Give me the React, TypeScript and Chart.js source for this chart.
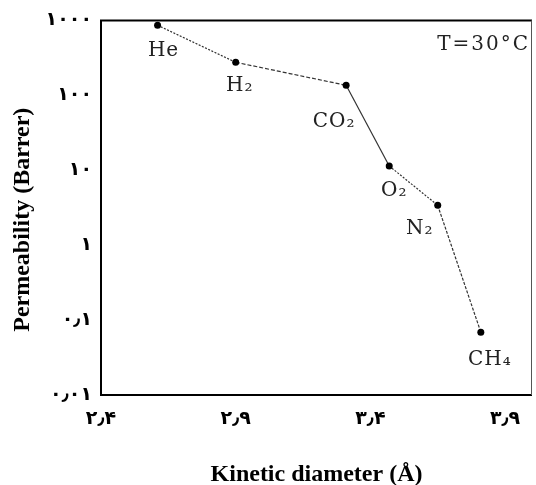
import React, { useEffect, useRef } from "react";
import { Chart, registerables } from "chart.js";

Chart.register(...registerables);

// ---- data ----
const gases = ["He", "H₂", "CO₂", "O₂", "N₂", "CH₄"];
const kineticDiameter = [2.61, 2.9, 3.31, 3.47, 3.65, 3.81];
const permeability = [860, 276, 136, 11.4, 3.4, 0.069];
const xTickValues = [2.4, 2.9, 3.4, 3.9];
const xTickLabels = ["۲٫۴", "۲٫۹", "۳٫۴", "۳٫۹"];
const yTickValues = [0.01, 0.1, 1, 10, 100, 1000];
const yTickLabels = ["۰٫۰۱", "۰٫۱", "۱", "۱۰", "۱۰۰", "۱۰۰۰"];
const annotationText = "T=30°C";
const xTitle = "Kinetic diameter (Å)";
const yTitle = "Permeability (Barrer)";

// ---- styles ----
const segmentDashes = [[2, 1.5], [4, 2], [], [2, 1.5], [3, 1.5]];
const labelOffsets = [
  [6, 25],
  [4, 24],
  [-12, 36],
  [5, 25],
  [-18, 23],
  [9, 28],
];

const framePlugin = {
  id: "frame",
  afterDraw(chart: any) {
    const { ctx, chartArea } = chart;
    const { left, right, top, bottom } = chartArea;
    ctx.save();
    ctx.strokeStyle = "#000";
    ctx.lineWidth = 2;
    ctx.beginPath();
    ctx.moveTo(right, top);
    ctx.lineTo(left, top);
    ctx.lineTo(left, bottom);
    ctx.lineTo(right, bottom);
    ctx.stroke();
    ctx.lineWidth = 1;
    ctx.strokeStyle = "#555";
    ctx.beginPath();
    ctx.moveTo(right - 0.5, top);
    ctx.lineTo(right - 0.5, bottom);
    ctx.stroke();
    ctx.restore();
  },
};

const labelPlugin = {
  id: "pointLabels",
  afterDatasetsDraw(chart: any) {
    const { ctx, chartArea } = chart;
    const meta = chart.getDatasetMeta(0);
    ctx.save();
    ctx.fillStyle = "#222";
    ctx.textAlign = "center";
    ctx.textBaseline = "middle";
    ctx.font = "20px 'DejaVu Serif'";
    (ctx as any).letterSpacing = "1px";
    meta.data.forEach((pt: any, i: number) => {
      const [dx, dy] = labelOffsets[i];
      ctx.fillText(gases[i], pt.x + dx, pt.y + dy);
    });
    (ctx as any).letterSpacing = "2px";
    ctx.textAlign = "right";
    ctx.fillText(annotationText, chartArea.right - 2, chartArea.top + 24);
    ctx.restore();
  },
};

export default function App() {
  const canvasRef = useRef<HTMLCanvasElement | null>(null);

  useEffect(() => {
    if (!canvasRef.current) return;
    const chart = new Chart(canvasRef.current, {
      type: "line",
      data: {
        datasets: [
          {
            data: kineticDiameter.map((x, i) => ({ x, y: permeability[i] })),
            borderColor: "#333",
            borderWidth: 1.2,
            pointRadius: 3.5,
            pointBackgroundColor: "#000",
            pointBorderColor: "#000",
            pointBorderWidth: 0,
            tension: 0,
            fill: false,
            segment: {
              borderDash: (ctx: any) => segmentDashes[ctx.p0DataIndex] || [],
            },
          },
        ],
      },
      options: {
        animation: false,
        responsive: false,
        devicePixelRatio: 1,
        layout: { padding: { top: 19, right: 2, left: 0, bottom: 0 } },
        plugins: {
          legend: { display: false },
          tooltip: { enabled: false },
        },
        scales: {
          x: {
            type: "linear",
            min: 2.4,
            max: 4.0,
            grid: { display: false, drawTicks: false },
            border: { display: false },
            afterBuildTicks: (scale: any) => {
              scale.ticks = xTickValues.map((value) => ({ value }));
            },
            afterFit: (scale: any) => {
              scale.height = 90;
            },
            ticks: {
              autoSkip: false,
              maxRotation: 0,
              padding: 13,
              color: "#000",
              font: { family: "'DejaVu Sans'", size: 19, weight: "bold" },
              callback: (_v: any, i: number) => xTickLabels[i],
            },
            title: {
              display: true,
              text: xTitle,
              color: "#000",
              font: { family: "'Liberation Serif'", size: 24, weight: "bold", lineHeight: 0.85 },
              padding: 0,
            },
          },
          y: {
            type: "logarithmic",
            min: 0.01,
            max: 1000,
            grid: { display: false, drawTicks: false },
            border: { display: false },
            afterBuildTicks: (scale: any) => {
              scale.ticks = yTickValues.map((value) => ({ value }));
            },
            afterFit: (scale: any) => {
              scale.width = 101;
            },
            ticks: {
              autoSkip: false,
              padding: 9,
              color: "#000",
              font: { family: "'DejaVu Sans'", size: 19, weight: "bold" },
              callback: (_v: any, i: number) => yTickLabels[i],
            },
            title: {
              display: true,
              text: yTitle + "    ",
              color: "#000",
              font: { family: "'Liberation Serif'", size: 24, weight: "bold", lineHeight: 1 },
              padding: 11,
            },
          },
        },
      },
      plugins: [framePlugin, labelPlugin],
    } as any);
    return () => chart.destroy();
  }, []);

  return (
    <div style={{ position: "absolute", left: 0, top: 0, width: 536, height: 485 }}>
      <canvas ref={canvasRef} width={536} height={485} style={{ display: "block" }} />
    </div>
  );
}
